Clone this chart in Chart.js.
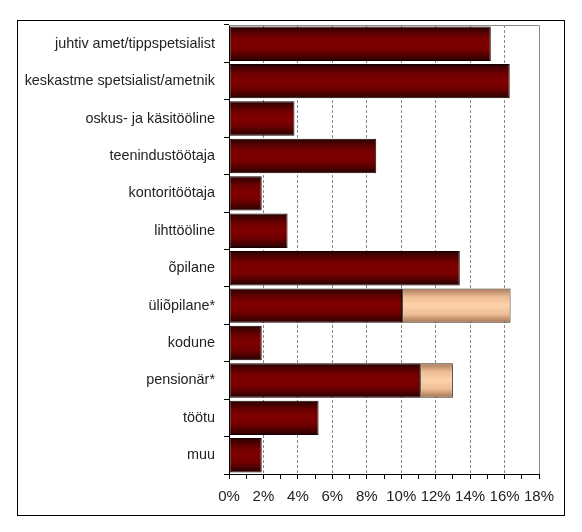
<!DOCTYPE html>
<html>
<head>
<meta charset="utf-8">
<script src="https://cdn.jsdelivr.net/npm/chart.js@4"></script>
<style>
html,body{margin:0;padding:0;background:#fff;}
#wrap{width:582px;height:532px;}
</style>
</head>
<body>
<div id="wrap"><canvas id="c" width="582" height="532"></canvas></div>
<script>
const categories = ["juhtiv amet/tippspetsialist","keskastme spetsialist/ametnik","oskus- ja käsitööline","teenindustöötaja","kontoritöötaja","lihttööline","õpilane","üliõpilane*","kodune","pensionär*","töötu","muu"];
const mainValues = [15.2, 16.3, 3.8, 8.55, 1.9, 3.4, 13.4, 10.05, 1.9, 11.1, 5.2, 1.9];
const extraValues = [null, null, null, null, null, null, null, 6.3, null, 1.9, null, null];
const xTickValues = [0, 2, 4, 6, 8, 10, 12, 14, 16, 18];

const BAR_PCT = 0.92;
function barGradient(ctx, stops) {
  const chart = ctx.chart;
  const y = chart.scales && chart.scales.y;
  if (!y || !chart.chartArea || ctx.dataIndex === undefined) return stops[Math.floor(stops.length/2)][1];
  const yc = y.getPixelForValue(ctx.dataIndex);
  const cat = (y.bottom - y.top) / categories.length;
  const h = cat * BAR_PCT;
  const g = chart.ctx.createLinearGradient(0, yc - h/2, 0, yc + h/2);
  stops.forEach(s => g.addColorStop(s[0], s[1]));
  return g;
}
const darkStops = [[0,'#2a0000'],[0.3,'#720000'],[0.5,'#800000'],[0.7,'#720000'],[1,'#260000']];
const lightStops = [[0,'#a87858'],[0.25,'#eebd95'],[0.5,'#fdd3ab'],[0.75,'#eebd95'],[1,'#a07050']];

const framePlugin = {
  id: 'frame',
  beforeDraw(chart) {
    const c = chart.ctx;
    c.save();
    c.fillStyle = '#fff';
    c.fillRect(0, 0, chart.width, chart.height);
    c.strokeStyle = '#000';
    c.lineWidth = 1;
    c.strokeRect(17.5, 20.5, 547, 495);
    c.restore();
  },
  beforeDatasetsDraw(chart) {
    const a = chart.chartArea;
    const c = chart.ctx;
    c.save();
    c.strokeStyle = '#8a8a8a';
    c.lineWidth = 1;
    c.beginPath();
    c.moveTo(a.left, a.top + 0.5);
    c.lineTo(a.right + 0.5, a.top + 0.5);
    c.lineTo(a.right + 0.5, a.bottom);
    c.stroke();
    c.restore();
  }
};

new Chart(document.getElementById('c'), {
  type: 'bar',
  data: {
    labels: categories,
    datasets: [
      {
        data: mainValues,
        backgroundColor: ctx => barGradient(ctx, darkStops),
        borderColor: '#140000',
        borderWidth: 1,
        borderSkipped: false,
        barPercentage: BAR_PCT,
        categoryPercentage: 1
      },
      {
        data: extraValues,
        backgroundColor: ctx => barGradient(ctx, lightStops),
        borderColor: '#3a2818',
        borderWidth: 1,
        borderSkipped: false,
        barPercentage: BAR_PCT,
        categoryPercentage: 1
      }
    ]
  },
  options: {
    indexAxis: 'y',
    responsive: false,
    animation: false,
    devicePixelRatio: 1,
    layout: { padding: { left: 0, top: 25, right: 43, bottom: 0 } },
    plugins: { legend: { display: false }, tooltip: { enabled: false } },
    scales: {
      x: {
        stacked: true,
        min: 0, max: 18,
        afterBuildTicks(scale) {
          const t = [];
          for (let v = 0; v <= 18; v++) t.push({ value: v });
          scale.ticks = t;
        },
        afterFit(scale) { scale.height = 58; },
        ticks: {
          autoSkip: false,
          maxRotation: 0,
          padding: 9,
          color: '#222',
          font: { family: 'Liberation Sans, Arial, sans-serif', size: 15 },
          callback: v => xTickValues.includes(v) ? v + '%' : ''
        },
        grid: {
          color: ctx => (ctx.tick && ctx.tick.value % 2 === 0 && ctx.tick.value > 0 && ctx.tick.value < 18) ? '#8a8a8a' : 'rgba(0,0,0,0)',
          tickColor: '#000',
          tickLength: 5,
          lineWidth: 1
        },
        border: { display: true, color: '#000', width: 1, dash: [3, 2] }
      },
      y: {
        stacked: true,
        afterFit(scale) { scale.width = 229; },
        ticks: {
          padding: 9,
          color: '#222',
          font: { family: 'Liberation Sans, Arial, sans-serif', size: 14.4 }
        },
        grid: {
          offset: true,
          drawOnChartArea: false,
          tickColor: '#000',
          tickLength: 5
        },
        border: { display: true, color: '#000', width: 1 }
      }
    }
  },
  plugins: [framePlugin]
});
</script>
</body>
</html>
